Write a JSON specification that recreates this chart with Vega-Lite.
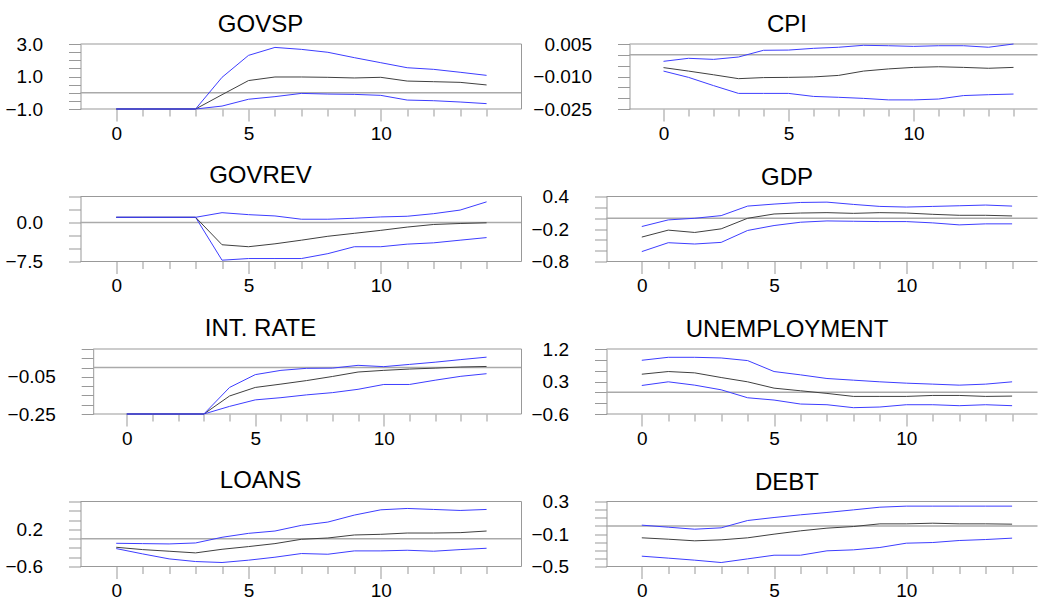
{
  "$schema": "https://vega.github.io/schema/vega-lite/v6.json",
  "background": "white",
  "padding": {"left": 4.5, "top": 13, "right": 0, "bottom": 0},
  "bounds": "flush",
  "columns": 2,
  "spacing": {"row": 87.5, "column": 85},
  "config": {
    "view": {"stroke": null},
    "font": "Liberation Sans",
    "axis": {"labelFontSize": 19, "labelFont": "Liberation Sans", "labelColor": "#000000", "tickColor": "#999999", "domainColor": "#999999", "domain": true, "grid": false, "labelFlush": false, "labelOverlap": false, "labelBound": false},
    "axisY": {"tickSize": 12, "labelPadding": 26},
    "axisX": {"labelPadding": 3, "domain": false}
  },
  "concat": [
    {
      "title": {"text": "GOVSP", "dx": -40.5, "frame": "group", "anchor": "middle", "offset": -2.3, "fontSize": 24, "font": "Liberation Sans", "fontWeight": "normal", "color": "#000000"},
      "width": 441, "height": 65,
      "data": {"values": [
        {"t": 0, "lo": -1, "mid": -1, "hi": -1},
        {"t": 1, "lo": -1, "mid": -1, "hi": -1},
        {"t": 2, "lo": -1, "mid": -1, "hi": -1},
        {"t": 3, "lo": -1, "mid": -1, "hi": -1},
        {"t": 4, "lo": -0.82, "mid": -0.12, "hi": 0.95},
        {"t": 5, "lo": -0.40, "mid": 0.75, "hi": 2.30},
        {"t": 6, "lo": -0.24, "mid": 0.97, "hi": 2.79},
        {"t": 7, "lo": -0.04, "mid": 0.97, "hi": 2.67},
        {"t": 8, "lo": -0.08, "mid": 0.95, "hi": 2.49},
        {"t": 9, "lo": -0.10, "mid": 0.91, "hi": 2.16},
        {"t": 10, "lo": -0.16, "mid": 0.95, "hi": 1.85},
        {"t": 11, "lo": -0.45, "mid": 0.72, "hi": 1.54},
        {"t": 12, "lo": -0.49, "mid": 0.68, "hi": 1.44},
        {"t": 13, "lo": -0.57, "mid": 0.64, "hi": 1.26},
        {"t": 14, "lo": -0.67, "mid": 0.48, "hi": 1.07}
      ]},
      "layer": [
        {"transform": [{"aggregate": [{"op": "count", "as": "n"}]}], "mark": {"type": "rule", "color": "#aaaaaa", "strokeWidth": 1.5}, "encoding": {
          "x": {"datum": -1.35, "scale": {"domain": [-1.35, 15.32], "nice": false, "zero": false}, "axis": {"title": null, "values": [0,1,2,3,4,5,6,7,8,9,10,11,12,13,14], "labelExpr": "datum.value % 5 === 0 ? datum.label : ''", "tickSize": {"condition": {"test": "datum.value % 5 === 0", "value": 12}, "value": 7}}},
          "x2": {"datum": 15.32},
          "y": {"datum": 0, "scale": {"domain": [-1, 3], "nice": false, "zero": false}, "axis": {"title": null, "values": [-1,-0.5,0,0.5,1,1.5,2,2.5,3], "format": ".1f", "labelExpr": "indexof([-1,1,3], datum.value) >= 0 ? datum.label : ''"}}}},
        {"transform": [{"aggregate": [{"op": "count", "as": "n"}]}], "mark": {"type": "rule", "color": "#999999"}, "encoding": {
          "x": {"datum": -1.35, "scale": {"domain": [-1.35, 15.32], "nice": false, "zero": false}, "axis": {"title": null, "values": [0,1,2,3,4,5,6,7,8,9,10,11,12,13,14], "labelExpr": "datum.value % 5 === 0 ? datum.label : ''", "tickSize": {"condition": {"test": "datum.value % 5 === 0", "value": 12}, "value": 7}}},
          "x2": {"datum": 15.32},
          "y": {"datum": 3, "scale": {"domain": [-1, 3], "nice": false, "zero": false}, "axis": {"title": null, "values": [-1,-0.5,0,0.5,1,1.5,2,2.5,3], "format": ".1f", "labelExpr": "indexof([-1,1,3], datum.value) >= 0 ? datum.label : ''"}}}},
        {"transform": [{"aggregate": [{"op": "count", "as": "n"}]}], "mark": {"type": "rule", "color": "#999999"}, "encoding": {
          "x": {"datum": -1.35, "scale": {"domain": [-1.35, 15.32], "nice": false, "zero": false}, "axis": {"title": null, "values": [0,1,2,3,4,5,6,7,8,9,10,11,12,13,14], "labelExpr": "datum.value % 5 === 0 ? datum.label : ''", "tickSize": {"condition": {"test": "datum.value % 5 === 0", "value": 12}, "value": 7}}},
          "x2": {"datum": 15.32},
          "y": {"datum": -1, "scale": {"domain": [-1, 3], "nice": false, "zero": false}, "axis": {"title": null, "values": [-1,-0.5,0,0.5,1,1.5,2,2.5,3], "format": ".1f", "labelExpr": "indexof([-1,1,3], datum.value) >= 0 ? datum.label : ''"}}}},
        {"transform": [{"aggregate": [{"op": "count", "as": "n"}]}], "mark": {"type": "rule", "color": "#999999"}, "encoding": {
          "x": {"datum": 15.32, "scale": {"domain": [-1.35, 15.32], "nice": false, "zero": false}, "axis": {"title": null, "values": [0,1,2,3,4,5,6,7,8,9,10,11,12,13,14], "labelExpr": "datum.value % 5 === 0 ? datum.label : ''", "tickSize": {"condition": {"test": "datum.value % 5 === 0", "value": 12}, "value": 7}}},
          "y": {"datum": -1, "scale": {"domain": [-1, 3], "nice": false, "zero": false}, "axis": {"title": null, "values": [-1,-0.5,0,0.5,1,1.5,2,2.5,3], "format": ".1f", "labelExpr": "indexof([-1,1,3], datum.value) >= 0 ? datum.label : ''"}},
          "y2": {"datum": 3}}},
        {"transform": [{"fold": ["lo", "mid", "hi"], "as": ["series", "value"]}], "mark": {"type": "line", "strokeWidth": 1}, "encoding": {
          "x": {"field": "t", "type": "quantitative", "scale": {"domain": [-1.35, 15.32], "nice": false, "zero": false}, "axis": {"title": null, "values": [0,1,2,3,4,5,6,7,8,9,10,11,12,13,14], "labelExpr": "datum.value % 5 === 0 ? datum.label : ''", "tickSize": {"condition": {"test": "datum.value % 5 === 0", "value": 12}, "value": 7}}},
          "y": {"field": "value", "type": "quantitative", "scale": {"domain": [-1, 3], "nice": false, "zero": false}, "axis": {"title": null, "values": [-1,-0.5,0,0.5,1,1.5,2,2.5,3], "format": ".1f", "labelExpr": "indexof([-1,1,3], datum.value) >= 0 ? datum.label : ''"}},
          "color": {"field": "series", "type": "nominal", "scale": {"domain": ["lo", "mid", "hi"], "range": ["#3d3dff", "#404040", "#3d3dff"]}, "legend": null}}}
      ]
    },
    {
      "title": {"text": "CPI", "dx": -35, "frame": "group", "anchor": "middle", "offset": -2.3, "fontSize": 24, "font": "Liberation Sans", "fontWeight": "normal", "color": "#000000"},
      "width": 431, "height": 65,
      "data": {"values": [
        {"t": 0, "lo": -0.0075, "mid": -0.0059, "hi": -0.0030},
        {"t": 1, "lo": -0.0104, "mid": -0.0075, "hi": -0.0016},
        {"t": 2, "lo": -0.0142, "mid": -0.0092, "hi": -0.0021},
        {"t": 3, "lo": -0.0178, "mid": -0.0110, "hi": -0.0010},
        {"t": 4, "lo": -0.0178, "mid": -0.0105, "hi": 0.0021},
        {"t": 5, "lo": -0.0178, "mid": -0.0104, "hi": 0.0022},
        {"t": 6, "lo": -0.0192, "mid": -0.0102, "hi": 0.0030},
        {"t": 7, "lo": -0.0196, "mid": -0.0095, "hi": 0.0035},
        {"t": 8, "lo": -0.0201, "mid": -0.0075, "hi": 0.0044},
        {"t": 9, "lo": -0.0208, "mid": -0.0065, "hi": 0.0042},
        {"t": 10, "lo": -0.0208, "mid": -0.0058, "hi": 0.0039},
        {"t": 11, "lo": -0.0204, "mid": -0.0055, "hi": 0.0042},
        {"t": 12, "lo": -0.0188, "mid": -0.0058, "hi": 0.0042},
        {"t": 13, "lo": -0.0184, "mid": -0.0062, "hi": 0.0035},
        {"t": 14, "lo": -0.0181, "mid": -0.0058, "hi": 0.0050}
      ]},
      "layer": [
        {"transform": [{"aggregate": [{"op": "count", "as": "n"}]}], "mark": {"type": "rule", "color": "#aaaaaa", "strokeWidth": 1.5}, "encoding": {
          "x": {"datum": -1.36, "scale": {"domain": [-2.28, 14.96], "nice": false, "zero": false}, "axis": {"title": null, "values": [0,1,2,3,4,5,6,7,8,9,10,11,12,13,14], "labelExpr": "datum.value % 5 === 0 ? datum.label : ''", "tickSize": {"condition": {"test": "datum.value % 5 === 0", "value": 12}, "value": 7}}},
          "x2": {"datum": 14.96},
          "y": {"datum": 0, "scale": {"domain": [-0.025, 0.005], "nice": false, "zero": false}, "axis": {"title": null, "offset": -23, "values": [-0.025,-0.02,-0.015,-0.01,-0.005,0,0.005], "format": ".3f", "labelExpr": "indexof([-0.025,-0.01,0.005], datum.value) >= 0 ? datum.label : ''"}}}},
        {"transform": [{"aggregate": [{"op": "count", "as": "n"}]}], "mark": {"type": "rule", "color": "#999999"}, "encoding": {
          "x": {"datum": -1.36, "scale": {"domain": [-2.28, 14.96], "nice": false, "zero": false}, "axis": {"title": null, "values": [0,1,2,3,4,5,6,7,8,9,10,11,12,13,14], "labelExpr": "datum.value % 5 === 0 ? datum.label : ''", "tickSize": {"condition": {"test": "datum.value % 5 === 0", "value": 12}, "value": 7}}},
          "x2": {"datum": 14.96},
          "y": {"datum": 0.005, "scale": {"domain": [-0.025, 0.005], "nice": false, "zero": false}, "axis": {"title": null, "offset": -23, "values": [-0.025,-0.02,-0.015,-0.01,-0.005,0,0.005], "format": ".3f", "labelExpr": "indexof([-0.025,-0.01,0.005], datum.value) >= 0 ? datum.label : ''"}}}},
        {"transform": [{"aggregate": [{"op": "count", "as": "n"}]}], "mark": {"type": "rule", "color": "#999999"}, "encoding": {
          "x": {"datum": -1.36, "scale": {"domain": [-2.28, 14.96], "nice": false, "zero": false}, "axis": {"title": null, "values": [0,1,2,3,4,5,6,7,8,9,10,11,12,13,14], "labelExpr": "datum.value % 5 === 0 ? datum.label : ''", "tickSize": {"condition": {"test": "datum.value % 5 === 0", "value": 12}, "value": 7}}},
          "x2": {"datum": 14.96},
          "y": {"datum": -0.025, "scale": {"domain": [-0.025, 0.005], "nice": false, "zero": false}, "axis": {"title": null, "offset": -23, "values": [-0.025,-0.02,-0.015,-0.01,-0.005,0,0.005], "format": ".3f", "labelExpr": "indexof([-0.025,-0.01,0.005], datum.value) >= 0 ? datum.label : ''"}}}},
        {"transform": [{"fold": ["lo", "mid", "hi"], "as": ["series", "value"]}], "mark": {"type": "line", "strokeWidth": 1}, "encoding": {
          "x": {"field": "t", "type": "quantitative", "scale": {"domain": [-2.28, 14.96], "nice": false, "zero": false}, "axis": {"title": null, "values": [0,1,2,3,4,5,6,7,8,9,10,11,12,13,14], "labelExpr": "datum.value % 5 === 0 ? datum.label : ''", "tickSize": {"condition": {"test": "datum.value % 5 === 0", "value": 12}, "value": 7}}},
          "y": {"field": "value", "type": "quantitative", "scale": {"domain": [-0.025, 0.005], "nice": false, "zero": false}, "axis": {"title": null, "offset": -23, "values": [-0.025,-0.02,-0.015,-0.01,-0.005,0,0.005], "format": ".3f", "labelExpr": "indexof([-0.025,-0.01,0.005], datum.value) >= 0 ? datum.label : ''"}},
          "color": {"field": "series", "type": "nominal", "scale": {"domain": ["lo", "mid", "hi"], "range": ["#3d3dff", "#404040", "#3d3dff"]}, "legend": null}}}
      ]
    },
    {
      "title": {"text": "GOVREV", "dx": -40.5, "frame": "group", "anchor": "middle", "offset": -0.8, "fontSize": 24, "font": "Liberation Sans", "fontWeight": "normal", "color": "#000000"},
      "width": 441, "height": 65,
      "data": {"values": [
        {"t": 0, "lo": 1.0, "mid": 1.0, "hi": 1.0},
        {"t": 1, "lo": 1.0, "mid": 1.0, "hi": 1.0},
        {"t": 2, "lo": 1.0, "mid": 1.0, "hi": 1.0},
        {"t": 3, "lo": 1.0, "mid": 1.0, "hi": 1.0},
        {"t": 4, "lo": -7.25, "mid": -4.28, "hi": 1.89},
        {"t": 5, "lo": -6.93, "mid": -4.66, "hi": 1.51},
        {"t": 6, "lo": -6.93, "mid": -4.10, "hi": 1.26},
        {"t": 7, "lo": -6.93, "mid": -3.40, "hi": 0.63},
        {"t": 8, "lo": -5.99, "mid": -2.65, "hi": 0.63},
        {"t": 9, "lo": -4.66, "mid": -2.08, "hi": 0.82},
        {"t": 10, "lo": -4.66, "mid": -1.51, "hi": 1.07},
        {"t": 11, "lo": -4.16, "mid": -0.88, "hi": 1.20},
        {"t": 12, "lo": -3.91, "mid": -0.38, "hi": 1.70},
        {"t": 13, "lo": -3.40, "mid": -0.19, "hi": 2.39},
        {"t": 14, "lo": -2.90, "mid": -0.06, "hi": 3.97}
      ]},
      "layer": [
        {"transform": [{"aggregate": [{"op": "count", "as": "n"}]}], "mark": {"type": "rule", "color": "#aaaaaa", "strokeWidth": 1.5}, "encoding": {
          "x": {"datum": -1.35, "scale": {"domain": [-1.35, 15.32], "nice": false, "zero": false}, "axis": {"title": null, "values": [0,1,2,3,4,5,6,7,8,9,10,11,12,13,14], "labelExpr": "datum.value % 5 === 0 ? datum.label : ''", "tickSize": {"condition": {"test": "datum.value % 5 === 0", "value": 12}, "value": 7}}},
          "x2": {"datum": 15.32},
          "y": {"datum": 0, "scale": {"domain": [-7.5, 5], "nice": false, "zero": false}, "axis": {"title": null, "values": [-7.5,-5,-2.5,0,2.5,5], "format": ".1f", "labelExpr": "indexof([-7.5,0], datum.value) >= 0 ? datum.label : ''"}}}},
        {"transform": [{"aggregate": [{"op": "count", "as": "n"}]}], "mark": {"type": "rule", "color": "#999999"}, "encoding": {
          "x": {"datum": -1.35, "scale": {"domain": [-1.35, 15.32], "nice": false, "zero": false}, "axis": {"title": null, "values": [0,1,2,3,4,5,6,7,8,9,10,11,12,13,14], "labelExpr": "datum.value % 5 === 0 ? datum.label : ''", "tickSize": {"condition": {"test": "datum.value % 5 === 0", "value": 12}, "value": 7}}},
          "x2": {"datum": 15.32},
          "y": {"datum": 5, "scale": {"domain": [-7.5, 5], "nice": false, "zero": false}, "axis": {"title": null, "values": [-7.5,-5,-2.5,0,2.5,5], "format": ".1f", "labelExpr": "indexof([-7.5,0], datum.value) >= 0 ? datum.label : ''"}}}},
        {"transform": [{"aggregate": [{"op": "count", "as": "n"}]}], "mark": {"type": "rule", "color": "#999999"}, "encoding": {
          "x": {"datum": -1.35, "scale": {"domain": [-1.35, 15.32], "nice": false, "zero": false}, "axis": {"title": null, "values": [0,1,2,3,4,5,6,7,8,9,10,11,12,13,14], "labelExpr": "datum.value % 5 === 0 ? datum.label : ''", "tickSize": {"condition": {"test": "datum.value % 5 === 0", "value": 12}, "value": 7}}},
          "x2": {"datum": 15.32},
          "y": {"datum": -7.5, "scale": {"domain": [-7.5, 5], "nice": false, "zero": false}, "axis": {"title": null, "values": [-7.5,-5,-2.5,0,2.5,5], "format": ".1f", "labelExpr": "indexof([-7.5,0], datum.value) >= 0 ? datum.label : ''"}}}},
        {"transform": [{"aggregate": [{"op": "count", "as": "n"}]}], "mark": {"type": "rule", "color": "#999999"}, "encoding": {
          "x": {"datum": 15.32, "scale": {"domain": [-1.35, 15.32], "nice": false, "zero": false}, "axis": {"title": null, "values": [0,1,2,3,4,5,6,7,8,9,10,11,12,13,14], "labelExpr": "datum.value % 5 === 0 ? datum.label : ''", "tickSize": {"condition": {"test": "datum.value % 5 === 0", "value": 12}, "value": 7}}},
          "y": {"datum": -7.5, "scale": {"domain": [-7.5, 5], "nice": false, "zero": false}, "axis": {"title": null, "values": [-7.5,-5,-2.5,0,2.5,5], "format": ".1f", "labelExpr": "indexof([-7.5,0], datum.value) >= 0 ? datum.label : ''"}},
          "y2": {"datum": 5}}},
        {"transform": [{"fold": ["lo", "mid", "hi"], "as": ["series", "value"]}], "mark": {"type": "line", "strokeWidth": 1}, "encoding": {
          "x": {"field": "t", "type": "quantitative", "scale": {"domain": [-1.35, 15.32], "nice": false, "zero": false}, "axis": {"title": null, "values": [0,1,2,3,4,5,6,7,8,9,10,11,12,13,14], "labelExpr": "datum.value % 5 === 0 ? datum.label : ''", "tickSize": {"condition": {"test": "datum.value % 5 === 0", "value": 12}, "value": 7}}},
          "y": {"field": "value", "type": "quantitative", "scale": {"domain": [-7.5, 5], "nice": false, "zero": false}, "axis": {"title": null, "values": [-7.5,-5,-2.5,0,2.5,5], "format": ".1f", "labelExpr": "indexof([-7.5,0], datum.value) >= 0 ? datum.label : ''"}},
          "color": {"field": "series", "type": "nominal", "scale": {"domain": ["lo", "mid", "hi"], "range": ["#3d3dff", "#404040", "#3d3dff"]}, "legend": null}}}
      ]
    },
    {
      "title": {"text": "GDP", "dx": -35, "frame": "group", "anchor": "middle", "offset": -2.3, "fontSize": 24, "font": "Liberation Sans", "fontWeight": "normal", "color": "#000000"},
      "width": 431, "height": 65,
      "data": {"values": [
        {"t": 0, "lo": -0.617, "mid": -0.349, "hi": -0.154},
        {"t": 1, "lo": -0.453, "mid": -0.221, "hi": -0.032},
        {"t": 2, "lo": -0.477, "mid": -0.264, "hi": -0.002},
        {"t": 3, "lo": -0.447, "mid": -0.197, "hi": 0.047},
        {"t": 4, "lo": -0.227, "mid": -0.002, "hi": 0.223},
        {"t": 5, "lo": -0.136, "mid": 0.077, "hi": 0.260},
        {"t": 6, "lo": -0.075, "mid": 0.095, "hi": 0.290},
        {"t": 7, "lo": -0.051, "mid": 0.102, "hi": 0.296},
        {"t": 8, "lo": -0.057, "mid": 0.089, "hi": 0.254},
        {"t": 9, "lo": -0.063, "mid": 0.102, "hi": 0.217},
        {"t": 10, "lo": -0.063, "mid": 0.095, "hi": 0.205},
        {"t": 11, "lo": -0.087, "mid": 0.071, "hi": 0.217},
        {"t": 12, "lo": -0.124, "mid": 0.053, "hi": 0.229},
        {"t": 13, "lo": -0.105, "mid": 0.053, "hi": 0.242},
        {"t": 14, "lo": -0.105, "mid": 0.041, "hi": 0.223}
      ]},
      "layer": [
        {"transform": [{"aggregate": [{"op": "count", "as": "n"}]}], "mark": {"type": "rule", "color": "#aaaaaa", "strokeWidth": 1.5}, "encoding": {
          "x": {"datum": -1.335, "scale": {"domain": [-1.335, 14.96], "nice": false, "zero": false}, "axis": {"title": null, "values": [0,1,2,3,4,5,6,7,8,9,10,11,12,13,14], "labelExpr": "datum.value % 5 === 0 ? datum.label : ''", "tickSize": {"condition": {"test": "datum.value % 5 === 0", "value": 12}, "value": 7}}},
          "x2": {"datum": 14.96},
          "y": {"datum": 0, "scale": {"domain": [-0.8, 0.4], "nice": false, "zero": false}, "axis": {"title": null, "values": [-0.8,-0.6,-0.4,-0.2,0,0.2,0.4], "format": ".1f", "labelExpr": "indexof([-0.8,-0.2,0.4], datum.value) >= 0 ? datum.label : ''"}}}},
        {"transform": [{"aggregate": [{"op": "count", "as": "n"}]}], "mark": {"type": "rule", "color": "#999999"}, "encoding": {
          "x": {"datum": -1.335, "scale": {"domain": [-1.335, 14.96], "nice": false, "zero": false}, "axis": {"title": null, "values": [0,1,2,3,4,5,6,7,8,9,10,11,12,13,14], "labelExpr": "datum.value % 5 === 0 ? datum.label : ''", "tickSize": {"condition": {"test": "datum.value % 5 === 0", "value": 12}, "value": 7}}},
          "x2": {"datum": 14.96},
          "y": {"datum": 0.4, "scale": {"domain": [-0.8, 0.4], "nice": false, "zero": false}, "axis": {"title": null, "values": [-0.8,-0.6,-0.4,-0.2,0,0.2,0.4], "format": ".1f", "labelExpr": "indexof([-0.8,-0.2,0.4], datum.value) >= 0 ? datum.label : ''"}}}},
        {"transform": [{"aggregate": [{"op": "count", "as": "n"}]}], "mark": {"type": "rule", "color": "#999999"}, "encoding": {
          "x": {"datum": -1.335, "scale": {"domain": [-1.335, 14.96], "nice": false, "zero": false}, "axis": {"title": null, "values": [0,1,2,3,4,5,6,7,8,9,10,11,12,13,14], "labelExpr": "datum.value % 5 === 0 ? datum.label : ''", "tickSize": {"condition": {"test": "datum.value % 5 === 0", "value": 12}, "value": 7}}},
          "x2": {"datum": 14.96},
          "y": {"datum": -0.8, "scale": {"domain": [-0.8, 0.4], "nice": false, "zero": false}, "axis": {"title": null, "values": [-0.8,-0.6,-0.4,-0.2,0,0.2,0.4], "format": ".1f", "labelExpr": "indexof([-0.8,-0.2,0.4], datum.value) >= 0 ? datum.label : ''"}}}},
        {"transform": [{"fold": ["lo", "mid", "hi"], "as": ["series", "value"]}], "mark": {"type": "line", "strokeWidth": 1}, "encoding": {
          "x": {"field": "t", "type": "quantitative", "scale": {"domain": [-1.335, 14.96], "nice": false, "zero": false}, "axis": {"title": null, "values": [0,1,2,3,4,5,6,7,8,9,10,11,12,13,14], "labelExpr": "datum.value % 5 === 0 ? datum.label : ''", "tickSize": {"condition": {"test": "datum.value % 5 === 0", "value": 12}, "value": 7}}},
          "y": {"field": "value", "type": "quantitative", "scale": {"domain": [-0.8, 0.4], "nice": false, "zero": false}, "axis": {"title": null, "values": [-0.8,-0.6,-0.4,-0.2,0,0.2,0.4], "format": ".1f", "labelExpr": "indexof([-0.8,-0.2,0.4], datum.value) >= 0 ? datum.label : ''"}},
          "color": {"field": "series", "type": "nominal", "scale": {"domain": ["lo", "mid", "hi"], "range": ["#3d3dff", "#404040", "#3d3dff"]}, "legend": null}}}
      ]
    },
    {
      "title": {"text": "INT. RATE", "dx": -40.5, "frame": "group", "anchor": "middle", "offset": -0.8, "fontSize": 24, "font": "Liberation Sans", "fontWeight": "normal", "color": "#000000"},
      "width": 441, "height": 65,
      "data": {"values": [
        {"t": 0, "lo": -0.25, "mid": -0.25, "hi": -0.25},
        {"t": 1, "lo": -0.25, "mid": -0.25, "hi": -0.25},
        {"t": 2, "lo": -0.25, "mid": -0.25, "hi": -0.25},
        {"t": 3, "lo": -0.25, "mid": -0.25, "hi": -0.25},
        {"t": 4, "lo": -0.209, "mid": -0.153, "hi": -0.107},
        {"t": 5, "lo": -0.174, "mid": -0.107, "hi": -0.038},
        {"t": 6, "lo": -0.162, "mid": -0.089, "hi": -0.015},
        {"t": 7, "lo": -0.147, "mid": -0.070, "hi": -0.004},
        {"t": 8, "lo": -0.135, "mid": -0.048, "hi": -0.003},
        {"t": 9, "lo": -0.117, "mid": -0.024, "hi": 0.012},
        {"t": 10, "lo": -0.091, "mid": -0.015, "hi": 0.005},
        {"t": 11, "lo": -0.091, "mid": -0.008, "hi": 0.017},
        {"t": 12, "lo": -0.068, "mid": -0.003, "hi": 0.029},
        {"t": 13, "lo": -0.047, "mid": 0.003, "hi": 0.043},
        {"t": 14, "lo": -0.033, "mid": 0.006, "hi": 0.056}
      ]},
      "layer": [
        {"transform": [{"aggregate": [{"op": "count", "as": "n"}]}], "mark": {"type": "rule", "color": "#aaaaaa", "strokeWidth": 1.5}, "encoding": {
          "x": {"datum": -1.306, "scale": {"domain": [-1.80, 15.36], "nice": false, "zero": false}, "axis": {"title": null, "values": [0,1,2,3,4,5,6,7,8,9,10,11,12,13,14], "labelExpr": "datum.value % 5 === 0 ? datum.label : ''", "tickSize": {"condition": {"test": "datum.value % 5 === 0", "value": 12}, "value": 7}}},
          "x2": {"datum": 15.36},
          "y": {"datum": 0, "scale": {"domain": [-0.25, 0.1], "nice": false, "zero": false}, "axis": {"title": null, "offset": -12.7, "values": [-0.25,-0.2,-0.15,-0.1,-0.05,0,0.05,0.1], "format": ".2f", "labelExpr": "indexof([-0.25,-0.05], datum.value) >= 0 ? datum.label : ''"}}}},
        {"transform": [{"aggregate": [{"op": "count", "as": "n"}]}], "mark": {"type": "rule", "color": "#999999"}, "encoding": {
          "x": {"datum": -1.306, "scale": {"domain": [-1.80, 15.36], "nice": false, "zero": false}, "axis": {"title": null, "values": [0,1,2,3,4,5,6,7,8,9,10,11,12,13,14], "labelExpr": "datum.value % 5 === 0 ? datum.label : ''", "tickSize": {"condition": {"test": "datum.value % 5 === 0", "value": 12}, "value": 7}}},
          "x2": {"datum": 15.36},
          "y": {"datum": 0.1, "scale": {"domain": [-0.25, 0.1], "nice": false, "zero": false}, "axis": {"title": null, "offset": -12.7, "values": [-0.25,-0.2,-0.15,-0.1,-0.05,0,0.05,0.1], "format": ".2f", "labelExpr": "indexof([-0.25,-0.05], datum.value) >= 0 ? datum.label : ''"}}}},
        {"transform": [{"aggregate": [{"op": "count", "as": "n"}]}], "mark": {"type": "rule", "color": "#999999"}, "encoding": {
          "x": {"datum": -1.306, "scale": {"domain": [-1.80, 15.36], "nice": false, "zero": false}, "axis": {"title": null, "values": [0,1,2,3,4,5,6,7,8,9,10,11,12,13,14], "labelExpr": "datum.value % 5 === 0 ? datum.label : ''", "tickSize": {"condition": {"test": "datum.value % 5 === 0", "value": 12}, "value": 7}}},
          "x2": {"datum": 15.36},
          "y": {"datum": -0.25, "scale": {"domain": [-0.25, 0.1], "nice": false, "zero": false}, "axis": {"title": null, "offset": -12.7, "values": [-0.25,-0.2,-0.15,-0.1,-0.05,0,0.05,0.1], "format": ".2f", "labelExpr": "indexof([-0.25,-0.05], datum.value) >= 0 ? datum.label : ''"}}}},
        {"transform": [{"aggregate": [{"op": "count", "as": "n"}]}], "mark": {"type": "rule", "color": "#999999"}, "encoding": {
          "x": {"datum": 15.36, "scale": {"domain": [-1.80, 15.36], "nice": false, "zero": false}, "axis": {"title": null, "values": [0,1,2,3,4,5,6,7,8,9,10,11,12,13,14], "labelExpr": "datum.value % 5 === 0 ? datum.label : ''", "tickSize": {"condition": {"test": "datum.value % 5 === 0", "value": 12}, "value": 7}}},
          "y": {"datum": -0.25, "scale": {"domain": [-0.25, 0.1], "nice": false, "zero": false}, "axis": {"title": null, "offset": -12.7, "values": [-0.25,-0.2,-0.15,-0.1,-0.05,0,0.05,0.1], "format": ".2f", "labelExpr": "indexof([-0.25,-0.05], datum.value) >= 0 ? datum.label : ''"}},
          "y2": {"datum": 0.1}}},
        {"transform": [{"fold": ["lo", "mid", "hi"], "as": ["series", "value"]}], "mark": {"type": "line", "strokeWidth": 1}, "encoding": {
          "x": {"field": "t", "type": "quantitative", "scale": {"domain": [-1.80, 15.36], "nice": false, "zero": false}, "axis": {"title": null, "values": [0,1,2,3,4,5,6,7,8,9,10,11,12,13,14], "labelExpr": "datum.value % 5 === 0 ? datum.label : ''", "tickSize": {"condition": {"test": "datum.value % 5 === 0", "value": 12}, "value": 7}}},
          "y": {"field": "value", "type": "quantitative", "scale": {"domain": [-0.25, 0.1], "nice": false, "zero": false}, "axis": {"title": null, "offset": -12.7, "values": [-0.25,-0.2,-0.15,-0.1,-0.05,0,0.05,0.1], "format": ".2f", "labelExpr": "indexof([-0.25,-0.05], datum.value) >= 0 ? datum.label : ''"}},
          "color": {"field": "series", "type": "nominal", "scale": {"domain": ["lo", "mid", "hi"], "range": ["#3d3dff", "#404040", "#3d3dff"]}, "legend": null}}}
      ]
    },
    {
      "title": {"text": "UNEMPLOYMENT", "dx": -35, "frame": "group", "anchor": "middle", "offset": -2.3, "fontSize": 24, "font": "Liberation Sans", "fontWeight": "normal", "color": "#000000"},
      "width": 431, "height": 65,
      "data": {"values": [
        {"t": 0, "lo": 0.190, "mid": 0.502, "hi": 0.888},
        {"t": 1, "lo": 0.291, "mid": 0.576, "hi": 0.970},
        {"t": 2, "lo": 0.199, "mid": 0.539, "hi": 0.970},
        {"t": 3, "lo": 0.070, "mid": 0.410, "hi": 0.952},
        {"t": 4, "lo": -0.150, "mid": 0.291, "hi": 0.879},
        {"t": 5, "lo": -0.214, "mid": 0.116, "hi": 0.576},
        {"t": 6, "lo": -0.324, "mid": 0.043, "hi": 0.484},
        {"t": 7, "lo": -0.343, "mid": -0.030, "hi": 0.383},
        {"t": 8, "lo": -0.425, "mid": -0.113, "hi": 0.337},
        {"t": 9, "lo": -0.407, "mid": -0.113, "hi": 0.291},
        {"t": 10, "lo": -0.343, "mid": -0.113, "hi": 0.254},
        {"t": 11, "lo": -0.343, "mid": -0.086, "hi": 0.227},
        {"t": 12, "lo": -0.370, "mid": -0.086, "hi": 0.199},
        {"t": 13, "lo": -0.343, "mid": -0.113, "hi": 0.227},
        {"t": 14, "lo": -0.370, "mid": -0.104, "hi": 0.291}
      ]},
      "layer": [
        {"transform": [{"aggregate": [{"op": "count", "as": "n"}]}], "mark": {"type": "rule", "color": "#aaaaaa", "strokeWidth": 1.5}, "encoding": {
          "x": {"datum": -1.335, "scale": {"domain": [-1.335, 14.96], "nice": false, "zero": false}, "axis": {"title": null, "values": [0,1,2,3,4,5,6,7,8,9,10,11,12,13,14], "labelExpr": "datum.value % 5 === 0 ? datum.label : ''", "tickSize": {"condition": {"test": "datum.value % 5 === 0", "value": 12}, "value": 7}}},
          "x2": {"datum": 14.96},
          "y": {"datum": 0, "scale": {"domain": [-0.6, 1.2], "nice": false, "zero": false}, "axis": {"title": null, "values": [-0.6,-0.3,0,0.3,0.6,0.9,1.2], "format": ".1f", "labelExpr": "indexof([-0.6,0.3,1.2], datum.value) >= 0 ? datum.label : ''"}}}},
        {"transform": [{"aggregate": [{"op": "count", "as": "n"}]}], "mark": {"type": "rule", "color": "#999999"}, "encoding": {
          "x": {"datum": -1.335, "scale": {"domain": [-1.335, 14.96], "nice": false, "zero": false}, "axis": {"title": null, "values": [0,1,2,3,4,5,6,7,8,9,10,11,12,13,14], "labelExpr": "datum.value % 5 === 0 ? datum.label : ''", "tickSize": {"condition": {"test": "datum.value % 5 === 0", "value": 12}, "value": 7}}},
          "x2": {"datum": 14.96},
          "y": {"datum": 1.2, "scale": {"domain": [-0.6, 1.2], "nice": false, "zero": false}, "axis": {"title": null, "values": [-0.6,-0.3,0,0.3,0.6,0.9,1.2], "format": ".1f", "labelExpr": "indexof([-0.6,0.3,1.2], datum.value) >= 0 ? datum.label : ''"}}}},
        {"transform": [{"aggregate": [{"op": "count", "as": "n"}]}], "mark": {"type": "rule", "color": "#999999"}, "encoding": {
          "x": {"datum": -1.335, "scale": {"domain": [-1.335, 14.96], "nice": false, "zero": false}, "axis": {"title": null, "values": [0,1,2,3,4,5,6,7,8,9,10,11,12,13,14], "labelExpr": "datum.value % 5 === 0 ? datum.label : ''", "tickSize": {"condition": {"test": "datum.value % 5 === 0", "value": 12}, "value": 7}}},
          "x2": {"datum": 14.96},
          "y": {"datum": -0.6, "scale": {"domain": [-0.6, 1.2], "nice": false, "zero": false}, "axis": {"title": null, "values": [-0.6,-0.3,0,0.3,0.6,0.9,1.2], "format": ".1f", "labelExpr": "indexof([-0.6,0.3,1.2], datum.value) >= 0 ? datum.label : ''"}}}},
        {"transform": [{"fold": ["lo", "mid", "hi"], "as": ["series", "value"]}], "mark": {"type": "line", "strokeWidth": 1}, "encoding": {
          "x": {"field": "t", "type": "quantitative", "scale": {"domain": [-1.335, 14.96], "nice": false, "zero": false}, "axis": {"title": null, "values": [0,1,2,3,4,5,6,7,8,9,10,11,12,13,14], "labelExpr": "datum.value % 5 === 0 ? datum.label : ''", "tickSize": {"condition": {"test": "datum.value % 5 === 0", "value": 12}, "value": 7}}},
          "y": {"field": "value", "type": "quantitative", "scale": {"domain": [-0.6, 1.2], "nice": false, "zero": false}, "axis": {"title": null, "values": [-0.6,-0.3,0,0.3,0.6,0.9,1.2], "format": ".1f", "labelExpr": "indexof([-0.6,0.3,1.2], datum.value) >= 0 ? datum.label : ''"}},
          "color": {"field": "series", "type": "nominal", "scale": {"domain": ["lo", "mid", "hi"], "range": ["#3d3dff", "#404040", "#3d3dff"]}, "legend": null}}}
      ]
    },
    {
      "title": {"text": "LOANS", "dx": -40.5, "frame": "group", "anchor": "middle", "offset": -0.8, "fontSize": 24, "font": "Liberation Sans", "fontWeight": "normal", "color": "#000000"},
      "width": 441, "height": 65,
      "data": {"values": [
        {"t": 0, "lo": -0.214, "mid": -0.186, "hi": -0.100},
        {"t": 1, "lo": -0.329, "mid": -0.236, "hi": -0.107},
        {"t": 2, "lo": -0.436, "mid": -0.271, "hi": -0.114},
        {"t": 3, "lo": -0.493, "mid": -0.307, "hi": -0.093},
        {"t": 4, "lo": -0.514, "mid": -0.229, "hi": 0.029},
        {"t": 5, "lo": -0.464, "mid": -0.171, "hi": 0.114},
        {"t": 6, "lo": -0.400, "mid": -0.107, "hi": 0.164},
        {"t": 7, "lo": -0.321, "mid": -0.014, "hi": 0.286},
        {"t": 8, "lo": -0.336, "mid": 0.014, "hi": 0.357},
        {"t": 9, "lo": -0.264, "mid": 0.079, "hi": 0.507},
        {"t": 10, "lo": -0.264, "mid": 0.093, "hi": 0.621},
        {"t": 11, "lo": -0.250, "mid": 0.121, "hi": 0.650},
        {"t": 12, "lo": -0.271, "mid": 0.121, "hi": 0.629},
        {"t": 13, "lo": -0.236, "mid": 0.129, "hi": 0.607},
        {"t": 14, "lo": -0.207, "mid": 0.164, "hi": 0.629}
      ]},
      "layer": [
        {"transform": [{"aggregate": [{"op": "count", "as": "n"}]}], "mark": {"type": "rule", "color": "#aaaaaa", "strokeWidth": 1.5}, "encoding": {
          "x": {"datum": -1.35, "scale": {"domain": [-1.35, 15.32], "nice": false, "zero": false}, "axis": {"title": null, "values": [0,1,2,3,4,5,6,7,8,9,10,11,12,13,14], "labelExpr": "datum.value % 5 === 0 ? datum.label : ''", "tickSize": {"condition": {"test": "datum.value % 5 === 0", "value": 12}, "value": 7}}},
          "x2": {"datum": 15.32},
          "y": {"datum": 0, "scale": {"domain": [-0.6, 0.8], "nice": false, "zero": false}, "axis": {"title": null, "values": [-0.6,-0.4,-0.2,0,0.2,0.4,0.6,0.8], "format": ".1f", "labelExpr": "indexof([-0.6,0.2], datum.value) >= 0 ? datum.label : ''"}}}},
        {"transform": [{"aggregate": [{"op": "count", "as": "n"}]}], "mark": {"type": "rule", "color": "#999999"}, "encoding": {
          "x": {"datum": -1.35, "scale": {"domain": [-1.35, 15.32], "nice": false, "zero": false}, "axis": {"title": null, "values": [0,1,2,3,4,5,6,7,8,9,10,11,12,13,14], "labelExpr": "datum.value % 5 === 0 ? datum.label : ''", "tickSize": {"condition": {"test": "datum.value % 5 === 0", "value": 12}, "value": 7}}},
          "x2": {"datum": 15.32},
          "y": {"datum": 0.8, "scale": {"domain": [-0.6, 0.8], "nice": false, "zero": false}, "axis": {"title": null, "values": [-0.6,-0.4,-0.2,0,0.2,0.4,0.6,0.8], "format": ".1f", "labelExpr": "indexof([-0.6,0.2], datum.value) >= 0 ? datum.label : ''"}}}},
        {"transform": [{"aggregate": [{"op": "count", "as": "n"}]}], "mark": {"type": "rule", "color": "#999999"}, "encoding": {
          "x": {"datum": -1.35, "scale": {"domain": [-1.35, 15.32], "nice": false, "zero": false}, "axis": {"title": null, "values": [0,1,2,3,4,5,6,7,8,9,10,11,12,13,14], "labelExpr": "datum.value % 5 === 0 ? datum.label : ''", "tickSize": {"condition": {"test": "datum.value % 5 === 0", "value": 12}, "value": 7}}},
          "x2": {"datum": 15.32},
          "y": {"datum": -0.6, "scale": {"domain": [-0.6, 0.8], "nice": false, "zero": false}, "axis": {"title": null, "values": [-0.6,-0.4,-0.2,0,0.2,0.4,0.6,0.8], "format": ".1f", "labelExpr": "indexof([-0.6,0.2], datum.value) >= 0 ? datum.label : ''"}}}},
        {"transform": [{"aggregate": [{"op": "count", "as": "n"}]}], "mark": {"type": "rule", "color": "#999999"}, "encoding": {
          "x": {"datum": 15.32, "scale": {"domain": [-1.35, 15.32], "nice": false, "zero": false}, "axis": {"title": null, "values": [0,1,2,3,4,5,6,7,8,9,10,11,12,13,14], "labelExpr": "datum.value % 5 === 0 ? datum.label : ''", "tickSize": {"condition": {"test": "datum.value % 5 === 0", "value": 12}, "value": 7}}},
          "y": {"datum": -0.6, "scale": {"domain": [-0.6, 0.8], "nice": false, "zero": false}, "axis": {"title": null, "values": [-0.6,-0.4,-0.2,0,0.2,0.4,0.6,0.8], "format": ".1f", "labelExpr": "indexof([-0.6,0.2], datum.value) >= 0 ? datum.label : ''"}},
          "y2": {"datum": 0.8}}},
        {"transform": [{"fold": ["lo", "mid", "hi"], "as": ["series", "value"]}], "mark": {"type": "line", "strokeWidth": 1}, "encoding": {
          "x": {"field": "t", "type": "quantitative", "scale": {"domain": [-1.35, 15.32], "nice": false, "zero": false}, "axis": {"title": null, "values": [0,1,2,3,4,5,6,7,8,9,10,11,12,13,14], "labelExpr": "datum.value % 5 === 0 ? datum.label : ''", "tickSize": {"condition": {"test": "datum.value % 5 === 0", "value": 12}, "value": 7}}},
          "y": {"field": "value", "type": "quantitative", "scale": {"domain": [-0.6, 0.8], "nice": false, "zero": false}, "axis": {"title": null, "values": [-0.6,-0.4,-0.2,0,0.2,0.4,0.6,0.8], "format": ".1f", "labelExpr": "indexof([-0.6,0.2], datum.value) >= 0 ? datum.label : ''"}},
          "color": {"field": "series", "type": "nominal", "scale": {"domain": ["lo", "mid", "hi"], "range": ["#3d3dff", "#404040", "#3d3dff"]}, "legend": null}}}
      ]
    },
    {
      "title": {"text": "DEBT", "dx": -35, "frame": "group", "anchor": "middle", "offset": -2.3, "fontSize": 24, "font": "Liberation Sans", "fontWeight": "normal", "color": "#000000"},
      "width": 431, "height": 65,
      "data": {"values": [
        {"t": 0, "lo": -0.373, "mid": -0.147, "hi": 0.009},
        {"t": 1, "lo": -0.397, "mid": -0.164, "hi": -0.016},
        {"t": 2, "lo": -0.422, "mid": -0.184, "hi": -0.041},
        {"t": 3, "lo": -0.451, "mid": -0.172, "hi": -0.024},
        {"t": 4, "lo": -0.406, "mid": -0.147, "hi": 0.066},
        {"t": 5, "lo": -0.361, "mid": -0.102, "hi": 0.103},
        {"t": 6, "lo": -0.361, "mid": -0.061, "hi": 0.136},
        {"t": 7, "lo": -0.307, "mid": -0.028, "hi": 0.165},
        {"t": 8, "lo": -0.295, "mid": -0.008, "hi": 0.197},
        {"t": 9, "lo": -0.266, "mid": 0.025, "hi": 0.230},
        {"t": 10, "lo": -0.213, "mid": 0.025, "hi": 0.243},
        {"t": 11, "lo": -0.205, "mid": 0.033, "hi": 0.243},
        {"t": 12, "lo": -0.180, "mid": 0.025, "hi": 0.243},
        {"t": 13, "lo": -0.168, "mid": 0.025, "hi": 0.243},
        {"t": 14, "lo": -0.151, "mid": 0.021, "hi": 0.243}
      ]},
      "layer": [
        {"transform": [{"aggregate": [{"op": "count", "as": "n"}]}], "mark": {"type": "rule", "color": "#aaaaaa", "strokeWidth": 1.5}, "encoding": {
          "x": {"datum": -1.335, "scale": {"domain": [-1.335, 14.96], "nice": false, "zero": false}, "axis": {"title": null, "values": [0,1,2,3,4,5,6,7,8,9,10,11,12,13,14], "labelExpr": "datum.value % 5 === 0 ? datum.label : ''", "tickSize": {"condition": {"test": "datum.value % 5 === 0", "value": 12}, "value": 7}}},
          "x2": {"datum": 14.96},
          "y": {"datum": 0, "scale": {"domain": [-0.5, 0.3], "nice": false, "zero": false}, "axis": {"title": null, "values": [-0.5,-0.4,-0.3,-0.2,-0.1,0,0.1,0.2,0.3], "format": ".1f", "labelExpr": "indexof([-0.5,-0.1,0.3], datum.value) >= 0 ? datum.label : ''"}}}},
        {"transform": [{"aggregate": [{"op": "count", "as": "n"}]}], "mark": {"type": "rule", "color": "#999999"}, "encoding": {
          "x": {"datum": -1.335, "scale": {"domain": [-1.335, 14.96], "nice": false, "zero": false}, "axis": {"title": null, "values": [0,1,2,3,4,5,6,7,8,9,10,11,12,13,14], "labelExpr": "datum.value % 5 === 0 ? datum.label : ''", "tickSize": {"condition": {"test": "datum.value % 5 === 0", "value": 12}, "value": 7}}},
          "x2": {"datum": 14.96},
          "y": {"datum": 0.3, "scale": {"domain": [-0.5, 0.3], "nice": false, "zero": false}, "axis": {"title": null, "values": [-0.5,-0.4,-0.3,-0.2,-0.1,0,0.1,0.2,0.3], "format": ".1f", "labelExpr": "indexof([-0.5,-0.1,0.3], datum.value) >= 0 ? datum.label : ''"}}}},
        {"transform": [{"aggregate": [{"op": "count", "as": "n"}]}], "mark": {"type": "rule", "color": "#999999"}, "encoding": {
          "x": {"datum": -1.335, "scale": {"domain": [-1.335, 14.96], "nice": false, "zero": false}, "axis": {"title": null, "values": [0,1,2,3,4,5,6,7,8,9,10,11,12,13,14], "labelExpr": "datum.value % 5 === 0 ? datum.label : ''", "tickSize": {"condition": {"test": "datum.value % 5 === 0", "value": 12}, "value": 7}}},
          "x2": {"datum": 14.96},
          "y": {"datum": -0.5, "scale": {"domain": [-0.5, 0.3], "nice": false, "zero": false}, "axis": {"title": null, "values": [-0.5,-0.4,-0.3,-0.2,-0.1,0,0.1,0.2,0.3], "format": ".1f", "labelExpr": "indexof([-0.5,-0.1,0.3], datum.value) >= 0 ? datum.label : ''"}}}},
        {"transform": [{"fold": ["lo", "mid", "hi"], "as": ["series", "value"]}], "mark": {"type": "line", "strokeWidth": 1}, "encoding": {
          "x": {"field": "t", "type": "quantitative", "scale": {"domain": [-1.335, 14.96], "nice": false, "zero": false}, "axis": {"title": null, "values": [0,1,2,3,4,5,6,7,8,9,10,11,12,13,14], "labelExpr": "datum.value % 5 === 0 ? datum.label : ''", "tickSize": {"condition": {"test": "datum.value % 5 === 0", "value": 12}, "value": 7}}},
          "y": {"field": "value", "type": "quantitative", "scale": {"domain": [-0.5, 0.3], "nice": false, "zero": false}, "axis": {"title": null, "values": [-0.5,-0.4,-0.3,-0.2,-0.1,0,0.1,0.2,0.3], "format": ".1f", "labelExpr": "indexof([-0.5,-0.1,0.3], datum.value) >= 0 ? datum.label : ''"}},
          "color": {"field": "series", "type": "nominal", "scale": {"domain": ["lo", "mid", "hi"], "range": ["#3d3dff", "#404040", "#3d3dff"]}, "legend": null}}}
      ]
    }
  ]
}
